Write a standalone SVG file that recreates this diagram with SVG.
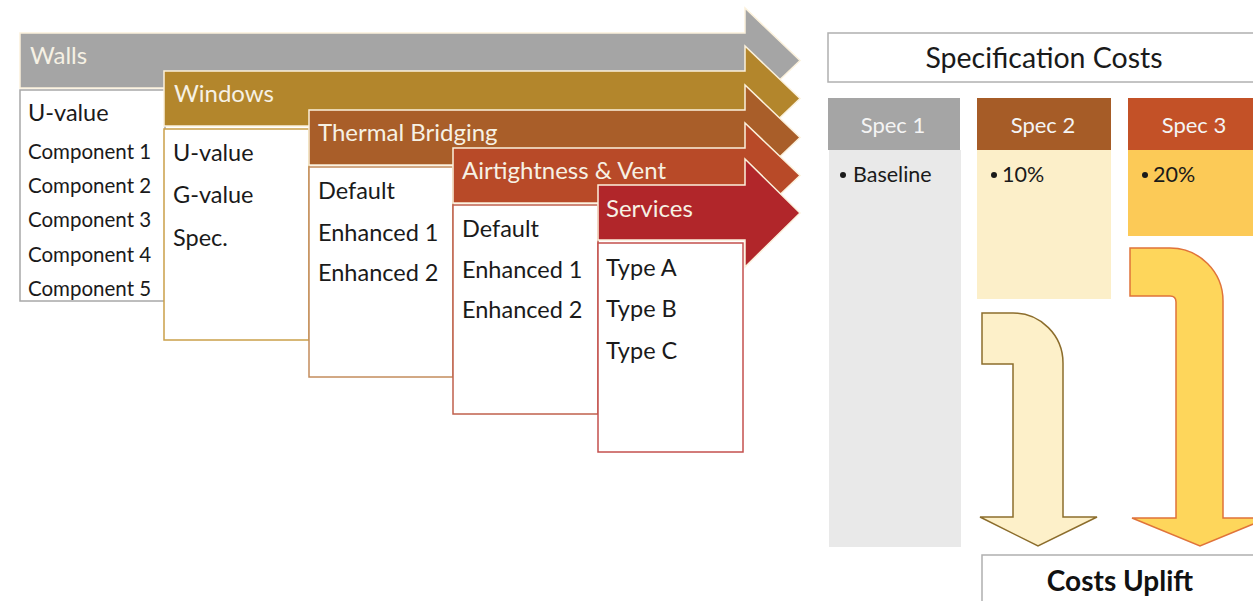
<svg xmlns="http://www.w3.org/2000/svg" width="1253" height="601" viewBox="0 0 1253 601">
<style>
text{font-family:Lato,"Liberation Sans",sans-serif;}
.hd{fill:#f6f1e4;font-size:24px;}
.it{fill:#1a1a1a;font-size:23.5px;}
.sm{fill:#1a1a1a;font-size:20.5px;}
.bx{fill:#fff;stroke-width:1.5;}
.arr{stroke:#fbf1dc;stroke-width:1.5;}
.sh{fill:#f4f4f4;font-size:22px;text-anchor:middle;}
.bl{fill:#1a1a1a;font-size:21.5px;}
</style>
<rect width="1253" height="601" fill="#fff"/>
<g id="walls">
<path class="arr" d="M20,33 H745 V8 L800,60.5 L745,113 V88 H20 Z" fill="#a5a5a5" stroke="none"/>
<text class="hd" x="30" y="64">Walls</text>
<rect class="bx" x="20" y="90" width="145" height="211" stroke="#a8a8a8"/>
<text class="it" x="28" y="121">U-value</text>
<text class="sm" x="28" y="159">Component 1</text>
<text class="sm" x="28" y="193">Component 2</text>
<text class="sm" x="28" y="227">Component 3</text>
<text class="sm" x="28" y="262">Component 4</text>
<text class="sm" x="28" y="296">Component 5</text>
</g>
<g id="windows">
<path class="arr" d="M164,71 H745 V46 L800,98.5 L745,151 V126 H164 Z" fill="#b3862c"/>
<text class="hd" x="174" y="102">Windows</text>
<rect class="bx" x="164" y="129" width="145" height="211" stroke="#caa04a"/>
<text class="it" x="173" y="161">U-value</text>
<text class="it" x="173" y="203">G-value</text>
<text class="it" x="173" y="246">Spec.</text>
</g>
<g id="thermal">
<path class="arr" d="M309,110 H745 V85 L800,137.5 L745,190 V165 H309 Z" fill="#a95e29"/>
<text class="hd" x="318" y="141">Thermal Bridging</text>
<rect class="bx" x="309" y="167" width="144" height="210" stroke="#c38c5c"/>
<text class="it" x="318" y="199">Default</text>
<text class="it" x="318" y="241">Enhanced 1</text>
<text class="it" x="318" y="281">Enhanced 2</text>
</g>
<g id="airtightness">
<path class="arr" d="M453,148 H745 V123 L800,175.5 L745,228 V203 H453 Z" fill="#b84a28"/>
<text class="hd" x="462" y="179">Airtightness &amp; Vent</text>
<rect class="bx" x="453" y="205" width="145" height="209" stroke="#c0604c"/>
<text class="it" x="462" y="237">Default</text>
<text class="it" x="462" y="278">Enhanced 1</text>
<text class="it" x="462" y="318">Enhanced 2</text>
</g>
<g id="services">
<path class="arr" d="M598,185 H745 V159 L800,213 L745,267 V240 H598 Z" fill="#b1262a"/>
<text class="hd" x="606" y="217">Services</text>
<rect class="bx" x="598" y="243" width="145" height="209" stroke="#c4504e"/>
<text class="it" x="606" y="276">Type A</text>
<text class="it" x="606" y="317">Type B</text>
<text class="it" x="606" y="359">Type C</text>
</g>
<g id="spec-costs">
<rect x="828" y="33" width="440" height="49" fill="#fff" stroke="#b0b0b0" stroke-width="1.5"/>
<text x="1044" y="68" fill="#1a1a1a" font-size="28.5" text-anchor="middle">Specification Costs</text>
</g>
<g id="spec1">
<rect x="829" y="150" width="132" height="397" fill="#e9e9e9"/>
<rect x="828" y="98" width="132" height="52" fill="#a5a5a5"/>
<text class="sh" x="893" y="133">Spec 1</text>
<circle cx="843" cy="175" r="3" fill="#1a1a1a"/>
<text class="bl" x="853" y="182">Baseline</text>
</g>
<g id="spec2">
<rect x="977" y="150" width="134" height="149" fill="#fcefc9"/>
<rect x="977" y="98" width="134" height="52" fill="#a65c27"/>
<text class="sh" x="1043" y="133">Spec 2</text>
<circle cx="994" cy="175" r="3" fill="#1a1a1a"/>
<text class="bl" x="1002" y="182">10%</text>
</g>
<g id="spec3">
<rect x="1128" y="150" width="130" height="86" fill="#fcca57"/>
<rect x="1128" y="98" width="130" height="52" fill="#c35127"/>
<text class="sh" x="1194" y="133">Spec 3</text>
<circle cx="1145" cy="175" r="3" fill="#1a1a1a"/>
<text class="bl" x="1153" y="182">20%</text>
</g>
<g id="connectors">
<path d="M982,313 H1013 A50,50 0 0 1 1063,363 V517 H1097 L1038,546 L980,517 H1013 V364 H982 Z" fill="#fdf0c9" stroke="#8c6d2c" stroke-width="1.5"/>
<path d="M1130,248 H1170 A53,53 0 0 1 1223,301 V518 H1268 L1200,546 L1132,518 H1176 V302 Q1176,296 1170,296 H1130 Z" fill="#fed65b" stroke="#e0733a" stroke-width="1.5"/>
</g>
<g id="costs-uplift">
<rect x="982" y="555" width="290" height="60" fill="#fff" stroke="#b0b0b0" stroke-width="1.5"/>
<text x="1120" y="591" fill="#111" font-size="28" font-weight="bold" text-anchor="middle">Costs Uplift</text>
</g>
</svg>
